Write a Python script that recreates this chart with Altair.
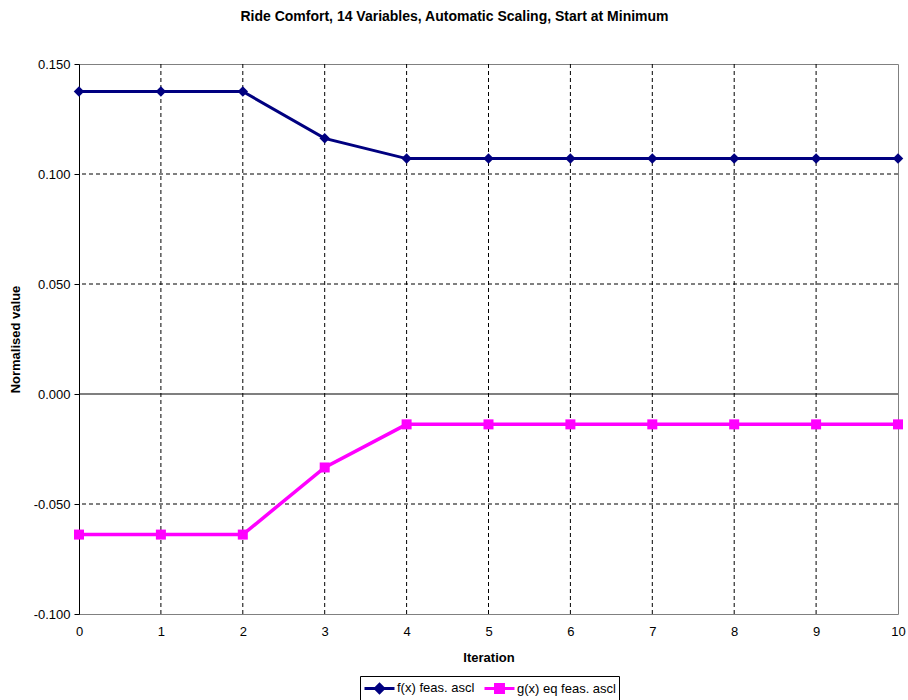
import altair as alt
import pandas as pd

iterations = list(range(11))
f_vals = [0.1375, 0.1375, 0.1375, 0.1162, 0.1070, 0.1070, 0.1070, 0.1070, 0.1070, 0.1070, 0.1070]
g_vals = [-0.0639, -0.0639, -0.0639, -0.0334, -0.0138, -0.0138, -0.0138, -0.0138, -0.0138, -0.0138, -0.0138]
series_names = ["f(x) feas. ascl", "g(x) eq feas. ascl"]
series_colors = ["#000080", "#FF00FF"]
y_ticks = [-0.1, -0.05, 0.0, 0.05, 0.1, 0.15]
y_grid = [-0.05, 0.05, 0.1]
x_grid = list(range(1, 10))

df_f = pd.DataFrame({"iteration": iterations, "value": f_vals, "series": series_names[0]})
df_g = pd.DataFrame({"iteration": iterations, "value": g_vals, "series": series_names[1]})
df = pd.concat([df_f, df_g], ignore_index=True)

FONT = "Liberation Sans"

xscale = alt.Scale(domain=[0, 10], nice=False, zero=False)
yscale = alt.Scale(domain=[-0.1, 0.15], nice=False, zero=False)

x_axis = alt.Axis(title="Iteration", values=iterations, grid=False, ticks=False,
                  domain=False, labelPadding=11, format="d", labelFlush=False,
                  labelFontSize=13, labelFont=FONT, labelColor="black",
                  titleFont=FONT, titleFontSize=13, titleFontWeight="bold",
                  titleColor="black", titlePadding=13)
y_axis = alt.Axis(title="Normalised value", values=y_ticks, grid=False, labelFlush=False,
                  labelExpr="datum.value < -0.0000001 ? '-' + format(-datum.value, '.3f') : format(abs(datum.value), '.3f')",
                  tickSize=5, tickColor="black", domainColor="black",
                  labelPadding=4, labelFontSize=13, labelFont=FONT, labelColor="black",
                  titleFont=FONT, titleFontSize=13, titleFontWeight="bold",
                  titleColor="black", titlePadding=11)

def xe():
    return alt.X("iteration:Q", scale=xscale, axis=x_axis)

def ye():
    return alt.Y("value:Q", scale=yscale, axis=y_axis)

ygrid_layer = alt.Chart(pd.DataFrame({"value": y_grid})).mark_rule(
    color="black", strokeWidth=1, strokeDash=[4, 3]
).encode(y=ye())

xgrid_layer = alt.Chart(pd.DataFrame({"iteration": x_grid})).mark_rule(
    color="black", strokeWidth=1, strokeDash=[4, 3]
).encode(x=xe())

zero_layer = alt.Chart(pd.DataFrame({"value": [0.0]})).mark_rule(
    color="black", strokeWidth=1.2
).encode(y=ye())

line_f = alt.Chart(df_f).mark_line(strokeWidth=3, color=series_colors[0]).encode(x=xe(), y=ye())
line_g = alt.Chart(df_g).mark_line(strokeWidth=3.5, color=series_colors[1]).encode(x=xe(), y=ye())
pts_f = alt.Chart(df_f).mark_point(filled=True, size=110, opacity=1, shape="diamond",
                                   color=series_colors[0]).encode(x=xe(), y=ye())
pts_g = alt.Chart(df_g).mark_point(filled=True, size=100, opacity=1, shape="square",
                                   color=series_colors[1]).encode(x=xe(), y=ye())

legend_paths = [
    "M-1,0H3M1,-0.55L1.55,0L1,0.55L0.45,0Z",
    "M-1,0H3M0.47,-0.53H1.53V0.53H0.47Z",
]
legend_layer = alt.Chart(df).transform_filter("false").mark_point(
    filled=True, strokeWidth=3, opacity=1
).encode(
    x=xe(), y=ye(),
    color=alt.Color("series:N", scale=alt.Scale(domain=series_names, range=series_colors),
                    legend=alt.Legend(title=None)),
    stroke=alt.Stroke("series:N", scale=alt.Scale(domain=series_names, range=series_colors),
                      legend=alt.Legend(title=None)),
    shape=alt.Shape("series:N", scale=alt.Scale(domain=series_names, range=legend_paths),
                    legend=alt.Legend(title=None)),
)

chart = alt.layer(
    ygrid_layer, xgrid_layer, zero_layer, line_f, line_g, pts_f, pts_g, legend_layer
).properties(
    width=819, height=550,
    title=alt.Title("Ride Comfort, 14 Variables, Automatic Scaling, Start at Minimum",
                    font=FONT, fontSize=14, fontWeight="bold", color="black",
                    anchor="middle", offset=34, dx=-34),
    autosize=alt.AutoSizeParams(type="none"),
    padding={"left": 79, "top": 64, "right": 10, "bottom": 86},
).configure_view(
    stroke="#808080", strokeWidth=1
).configure_legend(
    orient="none", legendX=281, legendY=612, direction="horizontal",
    strokeColor="black", padding=3, symbolSize=225, symbolStrokeWidth=3,
    symbolOpacity=1, labelFont=FONT, labelFontSize=13, labelColor="black",
    labelOffset=16, columnPadding=3, cornerRadius=0, fillColor="white",
)

chart.save("out.html", embed_options={"renderer": "svg", "actions": False})
